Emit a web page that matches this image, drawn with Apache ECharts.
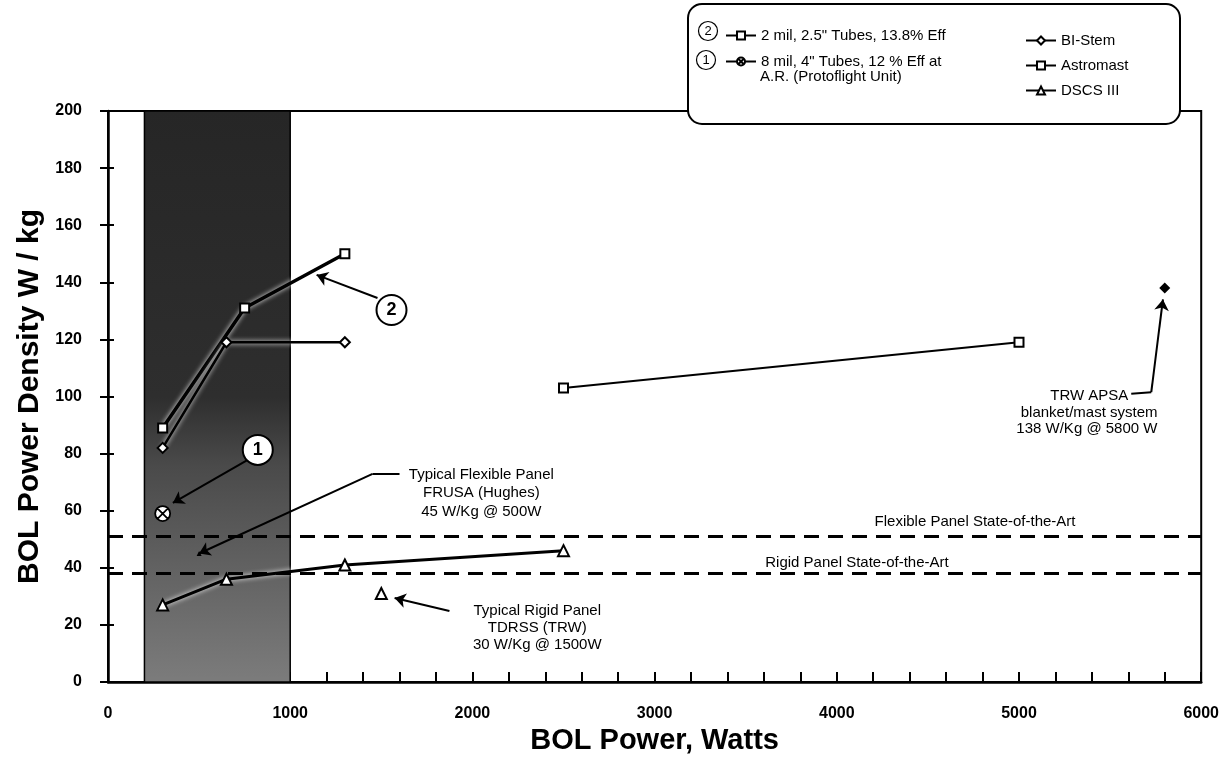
<!DOCTYPE html>
<html>
<head>
<meta charset="utf-8">
<title>BOL Power Density vs BOL Power</title>
<script src="https://cdn.jsdelivr.net/npm/echarts/dist/echarts.min.js"></script>
<style>
html, body { margin: 0; padding: 0; background: #fff; }
#chart { width: 1222px; height: 763px; }
</style>
</head>
<body>
<div id="chart"></div>
<script>
// values: x = BOL power (W), y = power density (W/kg)
var tubes2mil = [[300, 89], [750, 131], [1300, 150]];
var tubes8mil = [[300, 59]];
var biStem = [[300, 82], [650, 119], [1300, 119]];
var astromast = [[2500, 103], [5000, 119]];
var dscs3 = [[300, 27], [650, 36], [1300, 41], [2500, 46]];
var frusa = [[500, 45]];
var tdrss = [[1500, 31]];
var apsa = [[5800, 138]];
var soaLevels = [51, 38];
var soaNames = ['Flexible Panel State-of-the-Art', 'Rigid Panel State-of-the-Art'];
var shadedBand = [200, 1000];
var xTicks = [0, 1000, 2000, 3000, 4000, 5000, 6000];
var yTicks = [0, 20, 40, 60, 80, 100, 120, 140, 160, 180, 200];

(function(){
	var FONT = '"Liberation Sans", Arial, Helvetica, sans-serif';
	var el = document.getElementById('chart');
	var myChart = echarts.init(el);

	var n2 = '2 mil, 2.5" Tubes, 13.8% Eff';
	var n1 = '8 mil, 4" Tubes, 12 % Eff at';
	var crossCircle = 'path://M10,0A10,10,0,1,1,10,20A10,10,0,1,1,10,0ZM3,3L17,17M17,3L3,17';

	// annotation anchors, in axis units
	var arrows = {
		two: [[1479, 134.5], [1145, 142.6]],
		one: [[767, 77.8], [356, 62.7]],
		frusa: [[1600, 72.9], [1452, 72.9], [500, 45]],
		tdrss: [[1874, 24.9], [1573, 29.4]],
		apsa: [[5616, 101], [5726, 101.5], [5790, 134]]
	};

	function arrowData(pts) {
		var out = [];
		for (var i = 0; i < pts.length - 1; i++) {
			var last = i == pts.length - 2;
			out.push([
				{ coord: pts[i], symbol: 'none' },
				{ coord: pts[i + 1], symbol: last ? 'arrow' : 'none' }
			]);
		}
		return out;
	}

	function leader(pts) {
		return {
			silent: true,
			symbol: ['none', 'arrow'],
			symbolSize: 11,
			label: { show: false },
			lineStyle: { color: '#000', width: 2, type: 'solid' },
			emphasis: { disabled: true },
			data: arrowData(pts)
		};
	}

	var halo = { shadowColor: 'rgba(255,255,255,0.95)', shadowBlur: 5 };
	var hollow = { color: '#000', borderWidth: 2, opacity: 1 };
	var plain = function(v){ return String(v); };

	var option = {
		backgroundColor: '#fff',
		animation: false,
		textStyle: { fontFamily: FONT, color: '#000' },
		grid: {
			left: 108, right: 19, top: 111, bottom: 81,
			show: true, borderColor: '#000', borderWidth: 2, backgroundColor: 'transparent'
		},
		legend: [
			{
				data: [n2, n1],
				orient: 'vertical',
				left: 720, top: 23,
				itemWidth: 30, itemHeight: 10, itemGap: 11,
				textStyle: { fontFamily: FONT, fontSize: 15, color: '#000' },
				z: 7, selectedMode: false
			},
			{
				data: ['BI-Stem', 'Astromast', 'DSCS III'],
				orient: 'vertical',
				left: 1020, top: 28,
				itemWidth: 30, itemHeight: 10, itemGap: 10,
				textStyle: { fontFamily: FONT, fontSize: 15, color: '#000' },
				z: 7, selectedMode: false
			}
		],
		xAxis: [{
			type: 'value',
			min: xTicks[0], max: xTicks[xTicks.length - 1], interval: 1000,
			name: 'BOL Power, Watts',
			nameLocation: 'middle', nameGap: 44,
			nameTextStyle: { fontFamily: FONT, fontSize: 29, fontWeight: 'bold', color: '#000' },
			axisLine: { lineStyle: { color: '#000', width: 2.5 } },
			axisTick: { inside: true, length: 10, lineStyle: { color: '#000', width: 2 } },
			minorTick: { show: true, splitNumber: 5, length: 10, lineStyle: { color: '#000', width: 2 } },
			axisLabel: { margin: 24, fontFamily: FONT, fontSize: 16, fontWeight: 'bold', color: '#000', formatter: plain },
			splitLine: { show: false }
		}],
		yAxis: [{
			type: 'value',
			min: yTicks[0], max: yTicks[yTicks.length - 1], interval: 20,
			name: 'BOL Power Density W / kg',
			nameLocation: 'middle', nameGap: 56, nameRotate: 90,
			nameTextStyle: { fontFamily: FONT, fontSize: 30, fontWeight: 'bold', color: '#000' },
			axisLine: { lineStyle: { color: '#000', width: 2.5 } },
			axisTick: { inside: false, length: 8, lineStyle: { color: '#000', width: 2 } },
			axisLabel: { margin: 26, fontFamily: FONT, fontSize: 16, fontWeight: 'bold', color: '#000', formatter: plain },
			splitLine: { show: false }
		}, {
			type: 'value', position: 'left', offset: 0,
			min: yTicks[0], max: yTicks[yTicks.length - 1], interval: 20,
			axisLine: { show: false },
			axisTick: { inside: true, length: 6, lineStyle: { color: '#000', width: 2 } },
			axisLabel: { show: false },
			splitLine: { show: false }
		}],
		series: [
			{
				name: 'band', type: 'scatter', data: [], z: 1, silent: true,
				markArea: {
					silent: true,
					itemStyle: {
						color: new echarts.graphic.LinearGradient(0, 0, 0, 1, [
							{ offset: 0, color: '#262626' },
							{ offset: 0.5, color: '#2e2e2e' },
							{ offset: 0.62, color: '#4a4a4a' },
							{ offset: 1, color: '#7c7c7c' }
						]),
						borderColor: '#000', borderWidth: 1.5
					},
					data: [[{ xAxis: shadedBand[0] }, { xAxis: shadedBand[1] }]]
				}
			},
			{
				name: n2, type: 'line', data: tubes2mil, z: 4,
				symbol: 'emptyRect', symbolSize: 9, color: '#000',
				itemStyle: hollow,
				lineStyle: Object.assign({ color: '#000', width: 3.5 }, halo),
				markLine: leader(arrows.two)
			},
			{
				name: n1, type: 'line', data: tubes8mil, z: 4,
				symbol: crossCircle, symbolSize: 15, color: '#000',
				itemStyle: { color: '#fff', borderColor: '#000', borderWidth: 1.8 },
				lineStyle: { color: '#000', width: 2 },
				markLine: leader(arrows.one)
			},
			{
				name: 'BI-Stem', type: 'line', data: biStem, z: 4,
				symbol: 'emptyDiamond', symbolSize: 10, color: '#000',
				itemStyle: hollow,
				lineStyle: Object.assign({ color: '#000', width: 2.5 }, halo)
			},
			{
				name: 'Astromast', type: 'line', data: astromast, z: 4,
				symbol: 'emptyRect', symbolSize: 9, color: '#000',
				itemStyle: hollow,
				lineStyle: { color: '#000', width: 2 },
				markLine: {
					silent: true, symbol: 'none',
					label: { show: false },
					lineStyle: { color: '#000', width: 3, type: [15, 9] },
					emphasis: { disabled: true },
					data: soaLevels.map(function(v){ return { yAxis: v }; })
				}
			},
			{
				name: 'DSCS III', type: 'line', data: dscs3, z: 4,
				symbol: 'emptyTriangle', symbolSize: 11, color: '#000',
				itemStyle: hollow,
				lineStyle: Object.assign({ color: '#000', width: 3 }, halo)
			},
			{
				name: 'FRUSA (Hughes)', type: 'scatter', data: frusa, z: 4,
				symbol: 'triangle', symbolSize: 5,
				itemStyle: { color: '#000', opacity: 1 },
				markLine: leader(arrows.frusa)
			},
			{
				name: 'TDRSS (TRW)', type: 'scatter', data: tdrss, z: 4,
				symbol: 'emptyTriangle', symbolSize: 11,
				itemStyle: hollow,
				markLine: leader(arrows.tdrss)
			},
			{
				name: 'TRW APSA', type: 'scatter', data: apsa, z: 4,
				symbol: 'diamond', symbolSize: 11,
				itemStyle: { color: '#000', opacity: 1 },
				markLine: leader(arrows.apsa)
			}
		]
	};
	myChart.setOption(option);

	// text annotations, one line each, anchored in axis units
	var notes = [
		{ at: [2049, 72.5], align: 'center', text: 'Typical Flexible Panel' },
		{ at: [2049, 66.2], align: 'center', text: 'FRUSA (Hughes)' },
		{ at: [2049, 59.7], align: 'center', text: '45 W/Kg @ 500W' },
		{ at: [2356, 24.9], align: 'center', text: 'Typical Rigid Panel' },
		{ at: [2356, 19.0], align: 'center', text: 'TDRSS (TRW)' },
		{ at: [2356, 13.1], align: 'center', text: '30 W/Kg @ 1500W' },
		{ at: [5600, 100.2], align: 'right', text: 'TRW APSA' },
		{ at: [5760, 94.4], align: 'right', text: 'blanket/mast system' },
		{ at: [5760, 88.6], align: 'right', text: '138 W/Kg @ 5800 W' },
		{ at: [5310, 56], align: 'right', text: soaNames[0] },
		{ at: [4614, 41.7], align: 'right', text: soaNames[1] }
	];
	var badges = [
		{ at: [1556, 130.3], label: '2' },
		{ at: [822, 81.3], label: '1' }
	];

	function place(p) { return myChart.convertToPixel({ gridIndex: 0 }, p); }

	var g = [];
	// legend frame
	g.push({
		type: 'rect', z: 5,
		shape: { x: 688, y: 4, width: 492, height: 120, r: 14 },
		style: { fill: '#fff', stroke: '#000', lineWidth: 2 }
	});
	g.push({
		type: 'text', z: 7, x: 760, y: 69,
		style: { text: 'A.R. (Protoflight Unit)', fill: '#000', font: '15px ' + FONT }
	});
	[[708, 31, '2'], [706, 60, '1']].forEach(function(b){
		g.push({
			type: 'circle', z: 7,
			shape: { cx: b[0], cy: b[1], r: 9.5 },
			style: { fill: '#fff', stroke: '#000', lineWidth: 1.2 }
		});
		g.push({
			type: 'text', z: 8, x: b[0], y: b[1],
			style: { text: b[2], fill: '#000', font: '13px ' + FONT, align: 'center', verticalAlign: 'middle' }
		});
	});
	notes.forEach(function(nt){
		var p = place(nt.at);
		g.push({
			type: 'text', z: 6, x: p[0], y: p[1],
			style: { text: nt.text, fill: '#000', font: '15px ' + FONT, align: nt.align, verticalAlign: 'middle' }
		});
	});
	badges.forEach(function(b){
		var p = place(b.at);
		g.push({
			type: 'circle', z: 6,
			shape: { cx: p[0], cy: p[1], r: 15 },
			style: { fill: '#fff', stroke: '#000', lineWidth: 2 }
		});
		g.push({
			type: 'text', z: 7, x: p[0], y: p[1],
			style: { text: b.label, fill: '#000', font: 'bold 18px ' + FONT, align: 'center', verticalAlign: 'middle' }
		});
	});
	myChart.setOption({ graphic: g });

	window.addEventListener('resize', function(){ myChart.resize(); });
})();
</script>
</body>
</html>
